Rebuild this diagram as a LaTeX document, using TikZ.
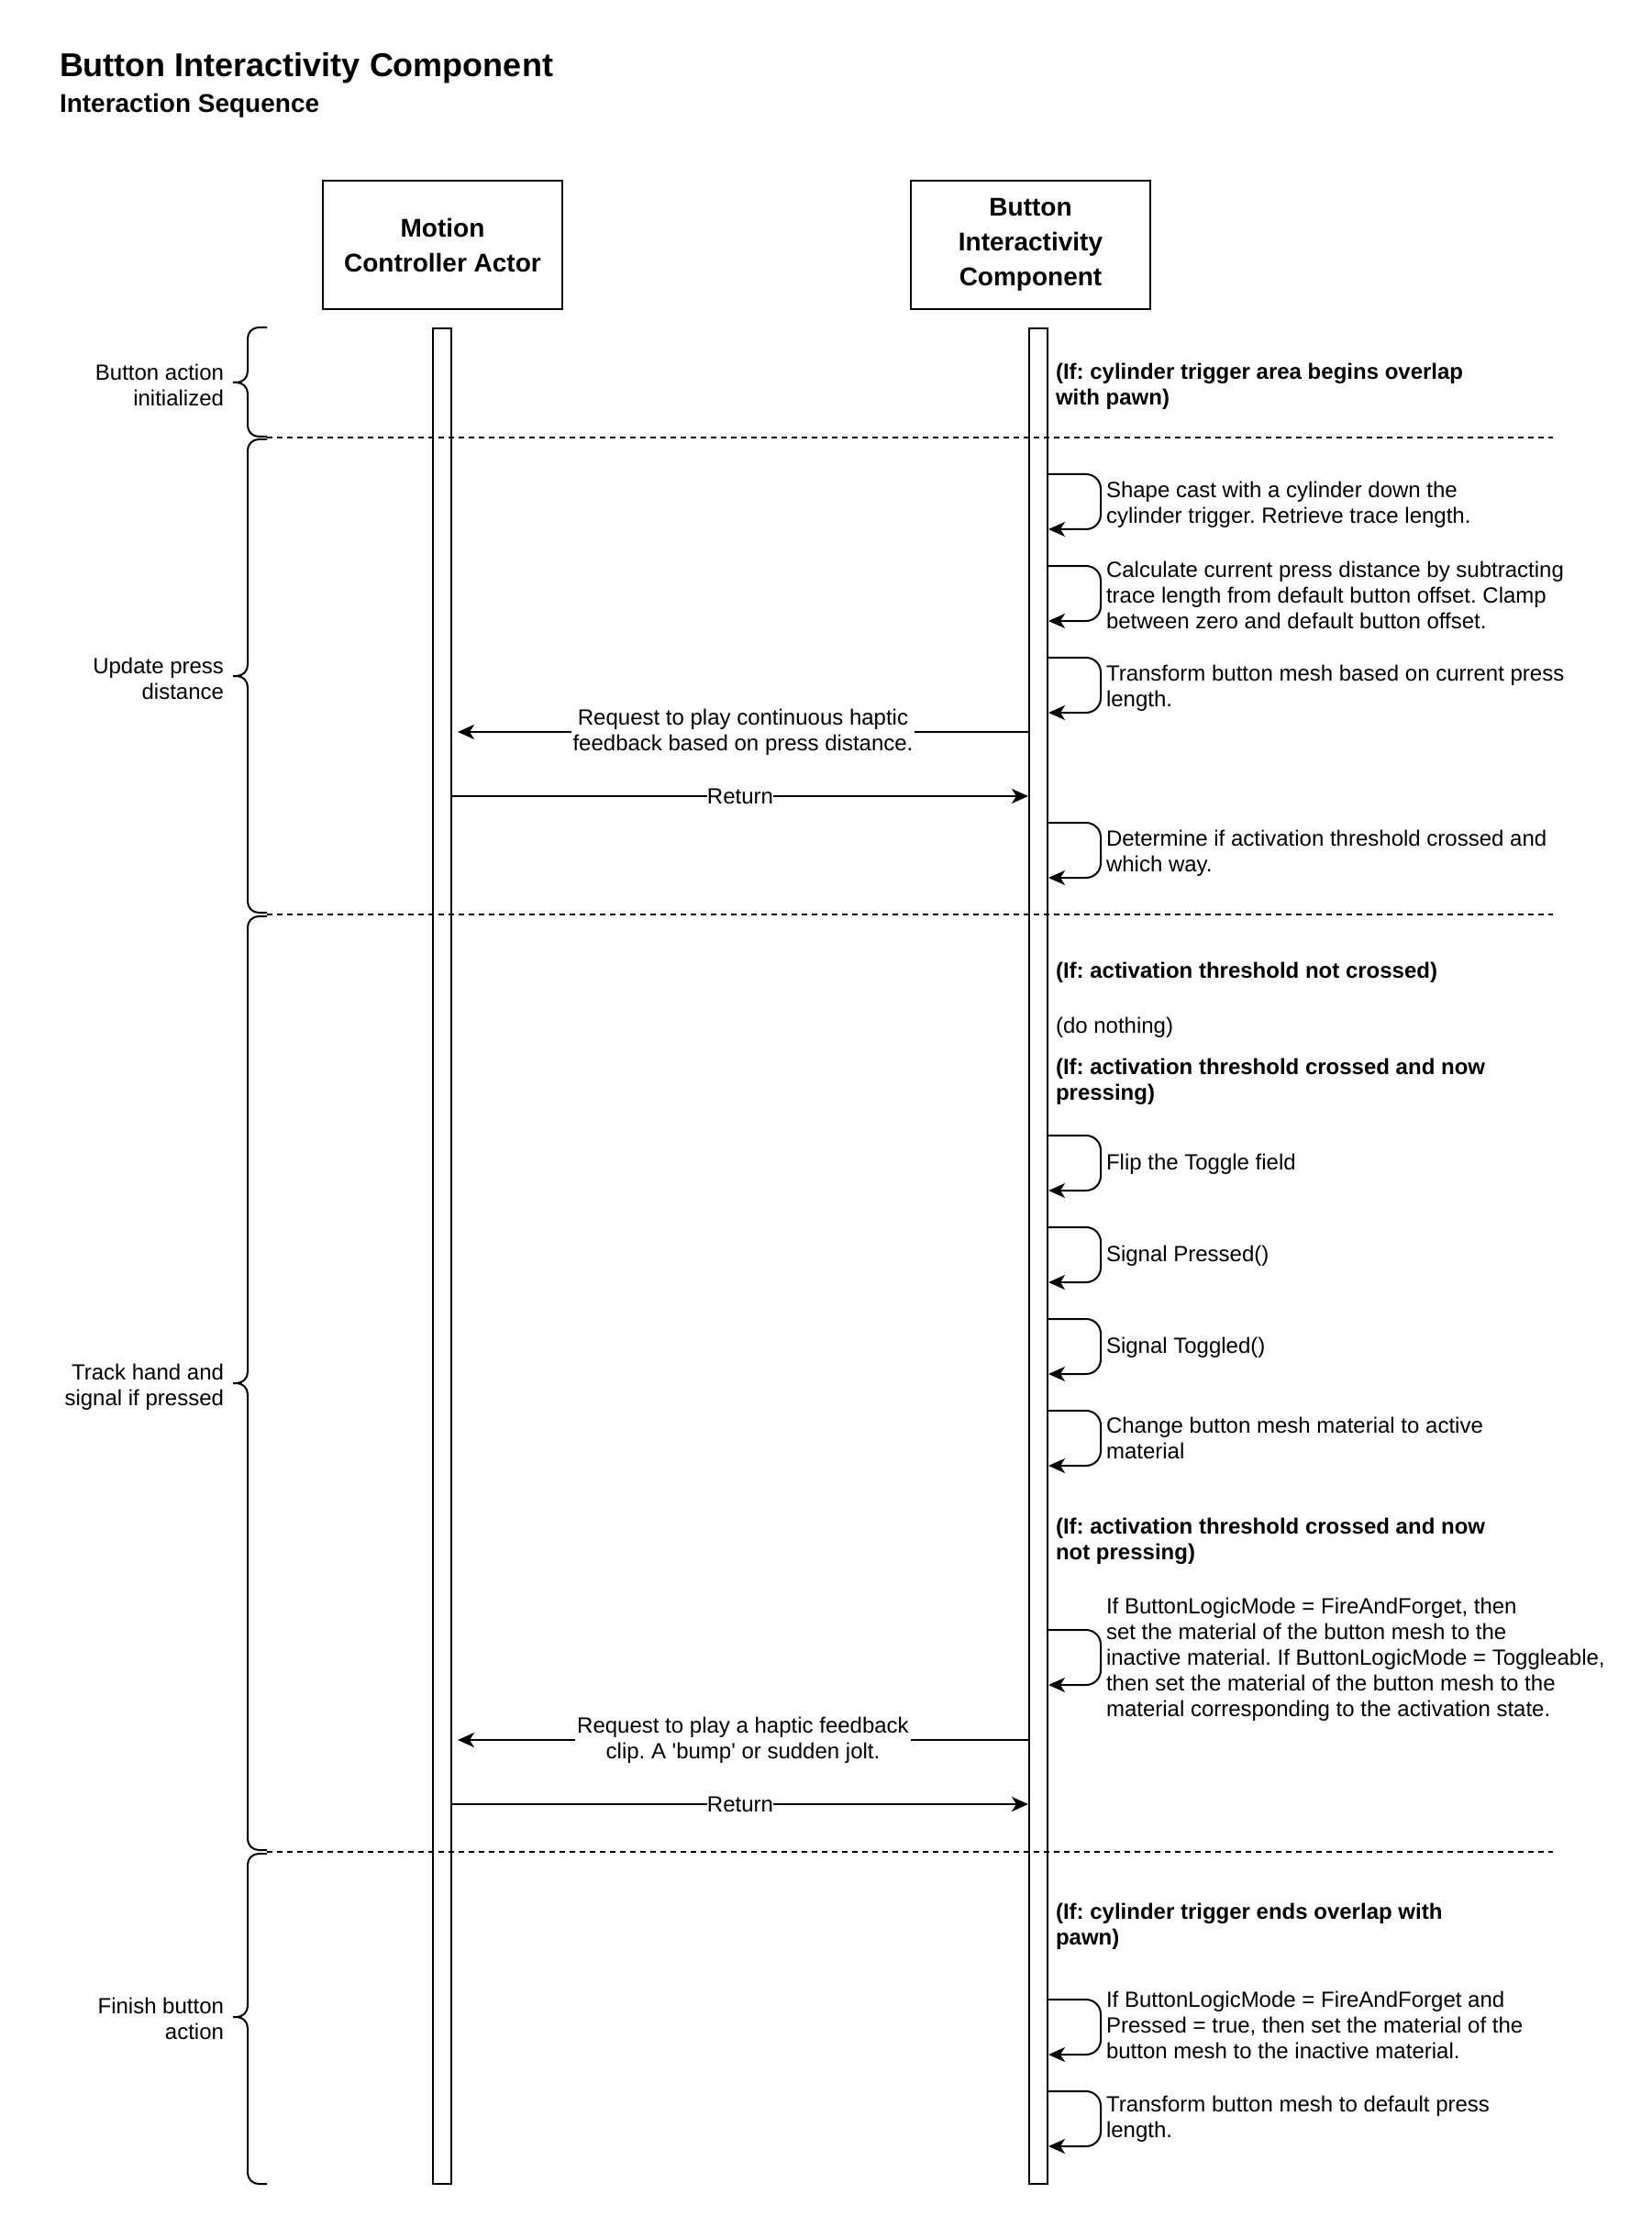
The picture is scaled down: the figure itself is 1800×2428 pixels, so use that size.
\documentclass[tikz,border=0pt]{standalone}
\usepackage{fontspec}
\setmainfont{Liberation Sans}
\usetikzlibrary{arrows.meta}
\frenchspacing

\begin{document}
\begin{tikzpicture}[x=0.5pt, y=-0.5pt, line width=1pt,
  actor/.style={draw, minimum width=130.5pt, minimum height=70pt, align=center, inner sep=0pt, font=\fontsize{14}{19}\selectfont\bfseries},
  bar/.style={draw, fill=white, minimum width=10pt, minimum height=1011.5pt, inner sep=0pt},
  msg/.style={-{Stealth[length=9pt, width=8pt, inset=2.5pt]}},
  selfcall/.style={msg, rounded corners=8pt},
  lbl/.style={fill=white, align=center, inner sep=1pt, font=\fontsize{12}{14}\selectfont},
  note/.style={anchor=west, align=left, inner sep=0pt, font=\fontsize{12}{14}\selectfont},
  cond/.style={note, font=\fontsize{12}{14}\selectfont\bfseries},
  phase/.style={anchor=east, align=right, inner sep=0pt, font=\fontsize{12}{14}\selectfont},
  sep/.style={dash pattern=on 3pt off 2.5pt}]
\useasboundingbox (0,0) rectangle (1800,2428);

% Title
\node[anchor=base west, inner sep=0pt, font=\fontsize{18}{22}\selectfont\bfseries] (title) at (64,84) {Button Interactivity Component};
\node[anchor=base west, inner sep=0pt, font=\fontsize{14}{17}\selectfont\bfseries] (subtitle) at (64,123) {Interaction Sequence};

% Lifelines
\node[actor] (motion) at (482.5,267) {Motion\\Controller Actor};
\node[actor, text depth=3pt] (button) at (1123.5,267) {Button\\Interactivity\\Component};
\node[bar] (mbar) at (482,1369.5) {};
\node[bar] (bbar) at (1132,1369.5) {};

% Phase separators
\draw[sep] (291,477) -- (1693,477);
\draw[sep] (291,997) -- (1693,997);
\draw[sep] (291,2019) -- (1693,2019);

% Braces
\draw[rounded corners=6pt] (291,357) -- (270,357) -- (270,417) -- (254,417);
\draw[rounded corners=6pt] (254,417) -- (270,417) -- (270,476) -- (291,476);
\draw[rounded corners=6pt] (291,479) -- (270,479) -- (270,737) -- (254,737);
\draw[rounded corners=6pt] (254,737) -- (270,737) -- (270,995) -- (291,995);
\draw[rounded corners=6pt] (291,999) -- (270,999) -- (270,1508) -- (254,1508);
\draw[rounded corners=6pt] (254,1508) -- (270,1508) -- (270,2017) -- (291,2017);
\draw[rounded corners=6pt] (291,2021) -- (270,2021) -- (270,2199) -- (254,2199);
\draw[rounded corners=6pt] (254,2199) -- (270,2199) -- (270,2381) -- (291,2381);

\node[phase] (init) at (245,420) {Button action\\initialized};
\node[phase] (update) at (245,740) {Update press\\distance};
\node[phase] (track) at (245,1512) {Track hand and\\signal if pressed};
\node[phase] (finish) at (245,2201) {Finish button\\action};

% Button action initialized
\node[cond] (c1) at (1150,421) {(If: cylinder trigger area begins overlap\\with pawn)};

% Update press distance
\draw[selfcall] (bbar.east |- 0,517) -- (1200,517) -- (1200,577) -- (bbar.east |- 0,577);
\node[note] (n1) at (1205,550) {Shape cast with a cylinder down the\\cylinder trigger. Retrieve trace length.};
\draw[selfcall] (bbar.east |- 0,617) -- (1200,617) -- (1200,677) -- (bbar.east |- 0,677);
\node[note] (n2) at (1205,649) {Calculate current press distance by subtracting\\trace length from default button offset. Clamp\\between zero and default button offset.};
\draw[selfcall] (bbar.east |- 0,717) -- (1200,717) -- (1200,777) -- (bbar.east |- 0,777);
\node[note] (n3) at (1205,750) {Transform button mesh based on current press\\length.};
\draw[msg] (bbar.west |- 0,798) -- ([xshift=3pt]mbar.east |- 0,798) node[lbl, midway] (r1) {Request to play continuous haptic\\feedback based on press distance.};
\draw[msg] (mbar.east |- 0,868) -- (bbar.west |- 0,868) node[lbl, midway, inner sep=0pt] (ret1) {Return};
\draw[selfcall] (bbar.east |- 0,897) -- (1200,897) -- (1200,957) -- (bbar.east |- 0,957);
\node[note] (n4) at (1205,930) {Determine if activation threshold crossed and\\which way.};

% Track hand and signal if pressed
\node[cond] (c2) at (1150,1060) {(If: activation threshold not crossed)};
\node[note] (n5) at (1150,1120) {(do nothing)};
\node[cond] (c3) at (1150,1179) {(If: activation threshold crossed and now\\pressing)};
\draw[selfcall] (bbar.east |- 0,1238) -- (1200,1238) -- (1200,1298) -- (bbar.east |- 0,1298);
\node[note] (n6) at (1205,1269) {Flip the Toggle field};
\draw[selfcall] (bbar.east |- 0,1338) -- (1200,1338) -- (1200,1398) -- (bbar.east |- 0,1398);
\node[note] (n7) at (1205,1369) {Signal Pressed()};
\draw[selfcall] (bbar.east |- 0,1438) -- (1200,1438) -- (1200,1498) -- (bbar.east |- 0,1498);
\node[note] (n8) at (1205,1469) {Signal Toggled()};
\draw[selfcall] (bbar.east |- 0,1538) -- (1200,1538) -- (1200,1598) -- (bbar.east |- 0,1598);
\node[note] (n9) at (1205,1568) {Change button mesh material to active\\material};
\node[cond] (c4) at (1150,1680) {(If: activation threshold crossed and now\\not pressing)};
\draw[selfcall] (bbar.east |- 0,1777) -- (1200,1777) -- (1200,1837) -- (bbar.east |- 0,1837);
\node[note] (n10) at (1205,1809) {If ButtonLogicMode = FireAndForget, then\\set the material of the button mesh to the\\inactive material. If ButtonLogicMode = Toggleable,\\then set the material of the button mesh to the\\material corresponding to the activation state.};
\draw[msg] (bbar.west |- 0,1897) -- ([xshift=3pt]mbar.east |- 0,1897) node[lbl, midway] (r2) {Request to play a haptic feedback\\clip. A \textquotesingle bump\textquotesingle{} or sudden jolt.};
\draw[msg] (mbar.east |- 0,1967) -- (bbar.west |- 0,1967) node[lbl, midway, inner sep=0pt] (ret2) {Return};

% Finish button action
\node[cond] (c5) at (1150,2100) {(If: cylinder trigger ends overlap with\\pawn)};
\draw[selfcall] (bbar.east |- 0,2180) -- (1200,2180) -- (1200,2240) -- (bbar.east |- 0,2240);
\node[note] (n11) at (1205,2208) {If ButtonLogicMode = FireAndForget and\\Pressed = true, then set the material of the\\button mesh to the inactive material.};
\draw[selfcall] (bbar.east |- 0,2280) -- (1200,2280) -- (1200,2340) -- (bbar.east |- 0,2340);
\node[note] (n12) at (1205,2310) {Transform button mesh to default press\\length.};
\end{tikzpicture}
\end{document}
